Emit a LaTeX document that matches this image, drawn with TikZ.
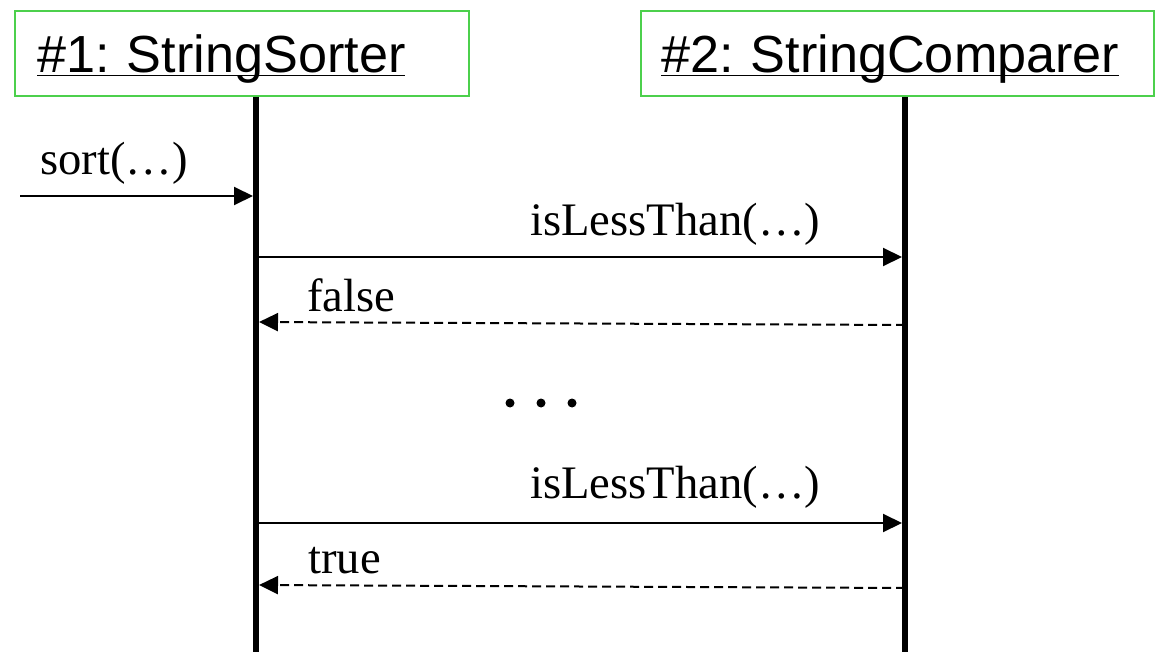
\documentclass[tikz,border=0pt]{standalone}
\usepackage{fontspec}
\setmainfont{Liberation Serif}
\newfontfamily\objfont{Liberation Sans}
\usetikzlibrary{arrows.meta}
\frenchspacing

\definecolor{objgreen}{RGB}{76,208,76}

\tikzset{
  object/.style={draw=objgreen, line width=1pt, anchor=north west,
    inner ysep=0pt, text height=31pt, text depth=11.5pt, align=left,
    font=\objfont\fontsize{26.1}{30}\selectfont},
  lifeline/.style={line width=3pt},
  call/.style={line width=1pt, shorten >=1.5pt,
    -{Triangle[length=9.5pt,width=9pt]}},
  reply/.style={call, dash pattern=on 4.5pt off 2.5pt},
  msg/.style={anchor=base west, inner sep=0pt,
    font=\fontsize{23.3}{26}\selectfont},
}

\newcommand{\objname}[1]{\underline{\smash{#1}}}

\begin{document}
\begin{tikzpicture}[x=0.5pt, y=-0.5pt]
\useasboundingbox (0,0) rectangle (1155,652);

%--- Objects and their lifelines ---
\node[object, inner xsep=11pt, text width=205pt] (sorter) at (14,10)
  {\objname{\#1: StringSorter}};
\node[object, inner xsep=10pt, text width=236.5pt] (comparer) at (640,10)
  {\objname{\#2: StringComparer}};

\coordinate (sorterend) at (256,652);
\coordinate (comparerend) at (905,652);
\draw[lifeline] (sorter.south -| sorterend) -- (sorterend);
\draw[lifeline] (comparer.south -| comparerend) -- (comparerend);

%--- Points on the lifelines ---
\coordinate (caller) at (20,196);
\coordinate (sortin) at (256,196);
\coordinate (askA) at (256,257);
\coordinate (getA) at (905,257);
\coordinate (backA) at (905,325);
\coordinate (answerA) at (256,322);
\coordinate (askB) at (256,523);
\coordinate (getB) at (905,523);
\coordinate (backB) at (905,588);
\coordinate (answerB) at (256,585);

%--- Messages ---
\draw[call] (caller) -- (sortin);
\node[msg] (sortlbl) at (40,175) {sort(…)};

\draw[call] (askA) -- (getA);
\node[msg] (askAlbl) at (530,235) {isLessThan(…)};
\draw[reply] (backA) -- (answerA);
\node[msg] (answerAlbl) at (307,311) {false};

% skipped calls
\foreach \x in {510,541,572}
  \fill (\x,403) circle (4.5);

\draw[call] (askB) -- (getB);
\node[msg] (askBlbl) at (530,498) {isLessThan(…)};
\draw[reply] (backB) -- (answerB);
\node[msg] (answerBlbl) at (308,573) {true};

\end{tikzpicture}
\end{document}
